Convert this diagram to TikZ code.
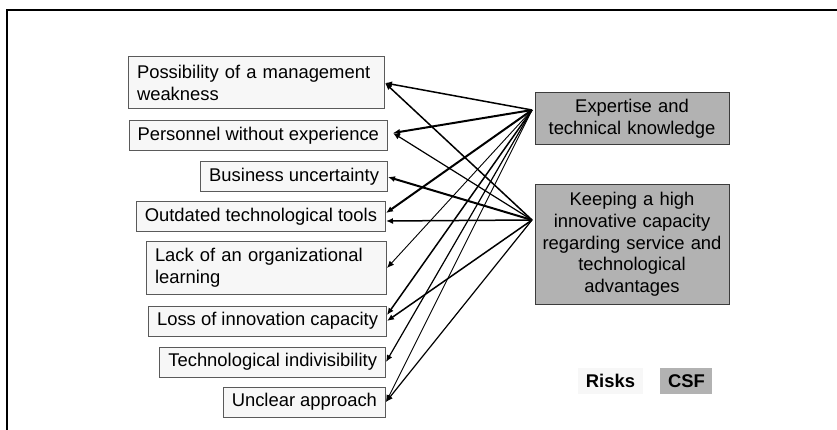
\documentclass[tikz,border=0pt]{standalone}
\usepackage{fontspec}
\setmainfont{Liberation Sans}
\usetikzlibrary{positioning, arrows.meta}

\definecolor{riskfill}{HTML}{F7F7F7}
\definecolor{riskline}{HTML}{5A5A5A}
\definecolor{csffill}{HTML}{B2B2B2}
\definecolor{csfline}{HTML}{3C3C3C}

\begin{document}
\begin{tikzpicture}[x=1pt, y=-1pt,
  every node/.style={font=\fontsize{18.4}{21.7}\selectfont},
  risk/.style={draw=riskline, fill=riskfill, line width=1pt, inner xsep=8.5pt, inner ysep=2pt, minimum height=30pt, anchor=east},
  csf/.style={draw=csfline, fill=csffill, line width=1pt, text width=188pt, inner xsep=3pt, align=center},
  key/.style={inner sep=0pt, minimum height=26pt, font=\fontsize{18.4}{21.7}\selectfont\bfseries},
  link/.style={-{Latex[length=7pt,width=6pt]}, line width=1.5pt},
  strong link/.style={link, line width=2pt},
  weak link/.style={link, line width=0.9pt}]
  \useasboundingbox (0,0) rectangle (837,430);
  \draw[line width=2pt] (6.5,430) -- (6.5,10) -- (837,10);

  % risks
  \node[risk, text width=239pt, align=left, minimum height=52pt] (weakness) at (385,83) {Possibility of a management\\weakness};
  \node[risk] (personnel) at (388,136) {Personnel without experience};
  \node[risk] (business) at (388,177) {Business uncertainty};
  \node[risk] (outdated) at (386,217) {Outdated technological tools};
  \node[risk, text width=223pt, align=left, minimum height=52pt] (learning) at (387,268) {Lack of an organizational\\learning};
  \node[risk] (loss) at (387,321) {Loss of innovation capacity};
  \node[risk] (indivisible) at (386,362) {Technological indivisibility};
  \node[risk] (unclear) at (386,402) {Unclear approach};

  % critical success factors
  \node[csf, minimum height=52pt] (expertise) at (632,119) {Expertise and\\technical knowledge};
  \node[csf, minimum height=119pt] (innovation) at (632,244.5) {Keeping a high\\innovative capacity\\regarding service and\\technological\\advantages};
  \coordinate (expin) at (532,110);
  \coordinate (innovin) at (532,220);

  \draw[link] (expin) -- (weakness.east);
  \draw[strong link] (expin) -- ([xshift=5pt,yshift=3pt]personnel.east);
  \draw[strong link] (expin) -- ([yshift=4pt]outdated.east);
  \draw[weak link] (expin) -- (learning.east);
  \draw[link] (expin) -- ([yshift=6pt]loss.east);
  \draw[link, line width=1.2pt] (expin) -- (indivisible.east);
  \draw[weak link] (expin) -- (unclear.east);

  \draw[link] (innovin) -- (weakness.east);
  \draw[link, line width=1.2pt] (innovin) -- ([xshift=5pt,yshift=3pt]personnel.east);
  \draw[strong link] (innovin) -- (business.east);
  \draw[link] (innovin) -- ([yshift=-4pt]outdated.east);
  \draw[link] (innovin) -- (loss.east);
  \draw[link, line width=1.2pt] (innovin) -- (unclear.east);

  % legend
  \node[key, fill=riskfill, minimum width=65pt] (riskkey) at (610.5,381) {Risks};
  \node[key, fill=csffill, minimum width=52pt] (csfkey) [right=17pt of riskkey] {CSF};
\end{tikzpicture}
\end{document}
